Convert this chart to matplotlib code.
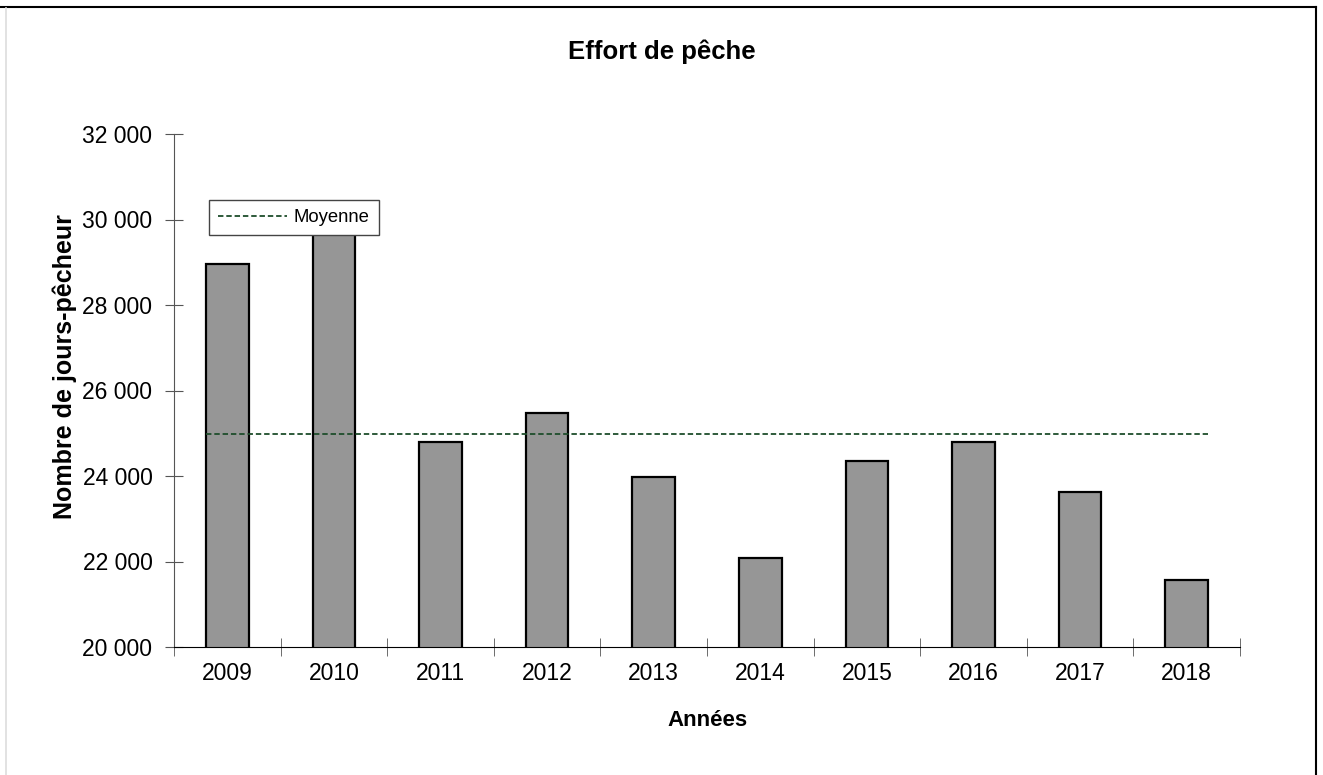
import numpy as np
import matplotlib.pyplot as plt
from matplotlib.ticker import FuncFormatter, FixedLocator
from matplotlib.lines import Line2D

plt.rcParams['font.family'] = ['Liberation Sans', 'DejaVu Sans']

# data
years = ['2009', '2010', '2011', '2012', '2013', '2014', '2015', '2016', '2017', '2018']
effort = [28960, 30140, 24800, 25480, 23965, 22080, 24360, 24800, 23620, 21565]

x = np.arange(len(years))
bar_w = 0.4
moyenne = np.mean(effort)

fig = plt.figure(figsize=(13.23, 7.75), dpi=100)
ax = fig.add_axes([174/1323, 1-647/775, (1240-174)/1323, (647-134)/775])

ax.bar(x, effort, width=bar_w, color='#969696', edgecolor='black', linewidth=1.6, zorder=2)
ax.plot([x[0]-bar_w/2, x[-1]+bar_w/2], [moyenne, moyenne], color='#1e4d2b',
        linestyle=(0, (3, 1.6)), linewidth=1.3, label='Moyenne', zorder=3)

ax.set_xlim(-0.5, len(years)-0.5)
ax.set_ylim(20000, 32000)
ax.set_yticks(np.arange(20000, 32001, 2000))
ax.yaxis.set_major_formatter(FuncFormatter(lambda v, p: f'{int(v):,}'.replace(',', ' ')))
ax.set_xticks(x)
ax.set_xticklabels(years)
ax.xaxis.set_minor_locator(FixedLocator(np.arange(-0.5, len(years), 1.0)))

for s in ['top', 'right']:
    ax.spines[s].set_visible(False)
ax.spines['left'].set_color('#555555')
ax.spines['bottom'].set_color('black')
ax.tick_params(axis='x', which='major', length=0, labelsize=16.5, pad=11)
ax.tick_params(axis='x', which='minor', direction='inout', length=13, color='#555555')
ax.tick_params(axis='y', direction='inout', length=13, color='#555555', labelsize=16.5, pad=9)

ax.set_xlabel('Années', fontsize=16, fontweight='bold', labelpad=18)
ax.set_ylabel('Nombre de jours-pêcheur', fontsize=18, fontweight='bold')
ax.yaxis.set_label_coords(-0.091, 0.546)
fig.text(0.5, 1-52/775, 'Effort de pêche', ha='center', va='center', fontsize=18.5, fontweight='bold')

leg = ax.legend(loc='upper left', bbox_to_anchor=(209/1323, 1-200/775), bbox_transform=fig.transFigure,
                fancybox=False, framealpha=1, edgecolor='#444444', fontsize=13.3,
                handlelength=3.7, borderpad=0.5, handletextpad=0.4, borderaxespad=0)
leg.get_frame().set_linewidth(1.0)
leg.set_zorder(5)

# outer frame: dark top and right, light left
fig.add_artist(Line2D([0, 1316/1323], [1-7/775, 1-7/775], transform=fig.transFigure, color='black', lw=1.5))
fig.add_artist(Line2D([1316/1323, 1316/1323], [0, 1-7/775], transform=fig.transFigure, color='black', lw=1.5))
fig.add_artist(Line2D([6/1323, 6/1323], [0, 1-8/775], transform=fig.transFigure, color='#dddddd', lw=1.2))

fig.savefig('out.png', dpi=100)
